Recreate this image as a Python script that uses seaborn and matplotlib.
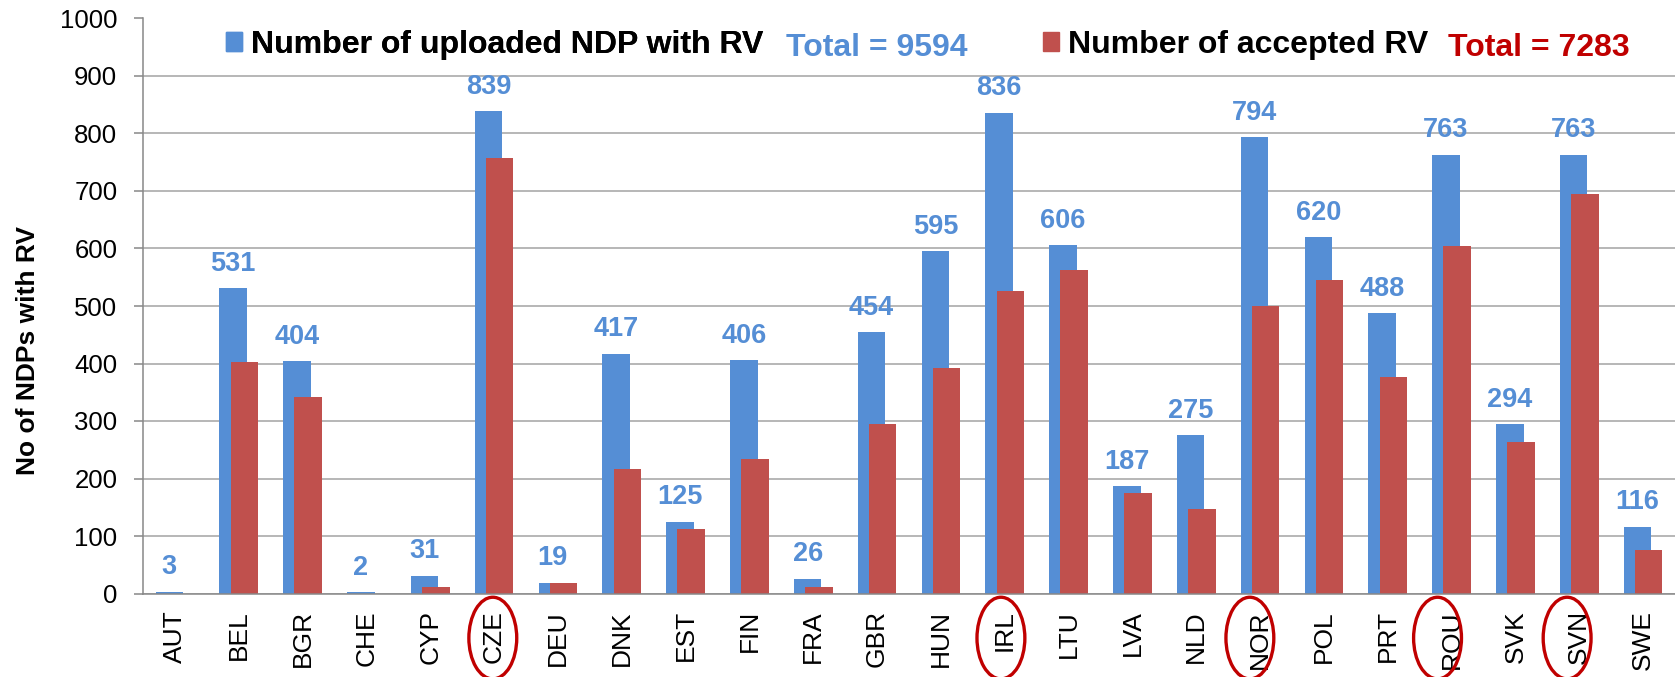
import numpy as np
import pandas as pd
import matplotlib
matplotlib.use("Agg")
import matplotlib.pyplot as plt
import matplotlib.transforms as mtransforms
from matplotlib.patches import Patch, Ellipse
import seaborn as sns

# data
countries = ['AUT', 'BEL', 'BGR', 'CHE', 'CYP', 'CZE', 'DEU', 'DNK', 'EST', 'FIN', 'FRA', 'GBR',
             'HUN', 'IRL', 'LTU', 'LVA', 'NLD', 'NOR', 'POL', 'PRT', 'ROU', 'SVK', 'SVN', 'SWE']
uploaded = [3, 531, 404, 2, 31, 839, 19, 417, 125, 406, 26, 454,
            595, 836, 606, 187, 275, 794, 620, 488, 763, 294, 763, 116]
accepted = [0, 402, 341, 0, 11, 757, 18, 217, 112, 234, 12, 294,
            393, 526, 563, 175, 147, 500, 546, 376, 604, 263, 695, 76]
highlighted = ['CZE', 'IRL', 'NOR', 'ROU', 'SVN']
total_uploaded = 9594
total_accepted = 7283

BLUE = '#558ED5'
RED = '#C0504D'
DARK_RED = '#C00000'
GRID = '#A3A3A3'
AXIS = '#888888'

sns.set_style("white")
plt.rcParams['font.family'] = ['Liberation Sans', 'DejaVu Sans']
plt.rcParams['text.color'] = 'black'
plt.rcParams['xtick.color'] = AXIS
plt.rcParams['ytick.color'] = AXIS
plt.rcParams['xtick.labelcolor'] = 'black'
plt.rcParams['ytick.labelcolor'] = 'black'

fig = plt.figure(figsize=(16.75, 6.77), dpi=100)
ax = fig.add_axes([143 / 1675, 1 - 593.5 / 677, 1 - 143 / 1675, (593.5 - 18.5) / 677])

bar_w = 0.43
shift = 0.088

# uploaded bars (blue), shifted left
sns.barplot(x=countries, y=uploaded, color=BLUE, saturation=1, width=bar_w,
            linewidth=0, edgecolor='none', ax=ax)
for p in ax.patches:
    p.set_x(p.get_x() - shift)
n_blue = len(ax.patches)

# accepted bars (red), shifted right, drawn over blue
sns.barplot(x=countries, y=accepted, color=RED, saturation=1, width=bar_w,
            linewidth=0, edgecolor='none', ax=ax)
for p in ax.patches[n_blue:]:
    p.set_x(p.get_x() + shift)

# value labels on blue bars
for i, v in enumerate(uploaded):
    ax.annotate(str(v), xy=(i - shift, v), xytext=(0, 12.5), textcoords='offset points',
                ha='center', va='baseline', fontsize=19.5, fontweight='bold', color=BLUE)

ax.set_xlim(-0.5, len(countries) - 0.5)
ax.set_ylim(0, 1000)
ax.set_yticks(np.arange(0, 1001, 100))
ax.set_axisbelow(True)
ax.yaxis.grid(True, color=GRID, linewidth=1.1)
ax.xaxis.grid(False)

for s in ['top', 'right']:
    ax.spines[s].set_visible(False)
for s in ['left', 'bottom']:
    ax.spines[s].set_color(AXIS)
    ax.spines[s].set_linewidth(1.1)

ax.set_xticks(np.arange(-0.5, len(countries), 1), minor=True)
ax.tick_params(axis='x', which='major', length=0, pad=12, labelsize=19, labelrotation=90)
ax.tick_params(axis='x', which='minor', length=7, width=1.1, direction='out')
ax.tick_params(axis='y', which='major', length=6.5, width=1.1, direction='out',
               pad=12, labelsize=18.5, left=True)

ax.set_xlabel('')
ax.set_ylabel('No of NDPs with RV', fontsize=19, fontweight='bold', color='black')
ax.yaxis.set_label_coords(-0.067, 0.422)

# legend entries and totals
leg_font = {'size': 23, 'weight': 'bold'}
leg1 = fig.legend(handles=[Patch(color=BLUE)], labels=['Number of uploaded NDP with RV'],
                  loc='center left', bbox_to_anchor=(226 / 1675, 1 - 45 / 677),
                  frameon=False, borderpad=0, borderaxespad=0, handlelength=0.5,
                  handleheight=0.55, handletextpad=0.27, prop=leg_font)
leg2 = fig.legend(handles=[Patch(color=RED)], labels=['Number of accepted RV'],
                  loc='center left', bbox_to_anchor=(1043 / 1675, 1 - 45 / 677),
                  frameon=False, borderpad=0, borderaxespad=0, handlelength=0.5,
                  handleheight=0.55, handletextpad=0.27, prop=leg_font)
fig.add_artist(leg1)
fig.text(786 / 1675, 1 - 55.5 / 677, f'Total = {total_uploaded}', color=BLUE,
         fontsize=23, fontweight='bold', va='baseline', ha='left')
fig.text(1448 / 1675, 1 - 55.5 / 677, f'Total = {total_accepted}', color=DARK_RED,
         fontsize=23, fontweight='bold', va='baseline', ha='left')

# red hand-drawn circles round highlighted country labels (slightly off-centre like the original)
circle_shift = {'CZE': -0.02, 'IRL': -0.06, 'NOR': -0.16, 'ROU': -0.22, 'SVN': -0.19}
trans = mtransforms.blended_transform_factory(ax.transData, ax.transAxes)
for c in highlighted:
    i = countries.index(c)
    ax.add_patch(Ellipse((i + circle_shift[c], -0.0775), width=0.75, height=0.142,
                         transform=trans, fill=False, edgecolor=DARK_RED,
                         linewidth=2.4, clip_on=False))

fig.savefig('out.png', dpi=100)
